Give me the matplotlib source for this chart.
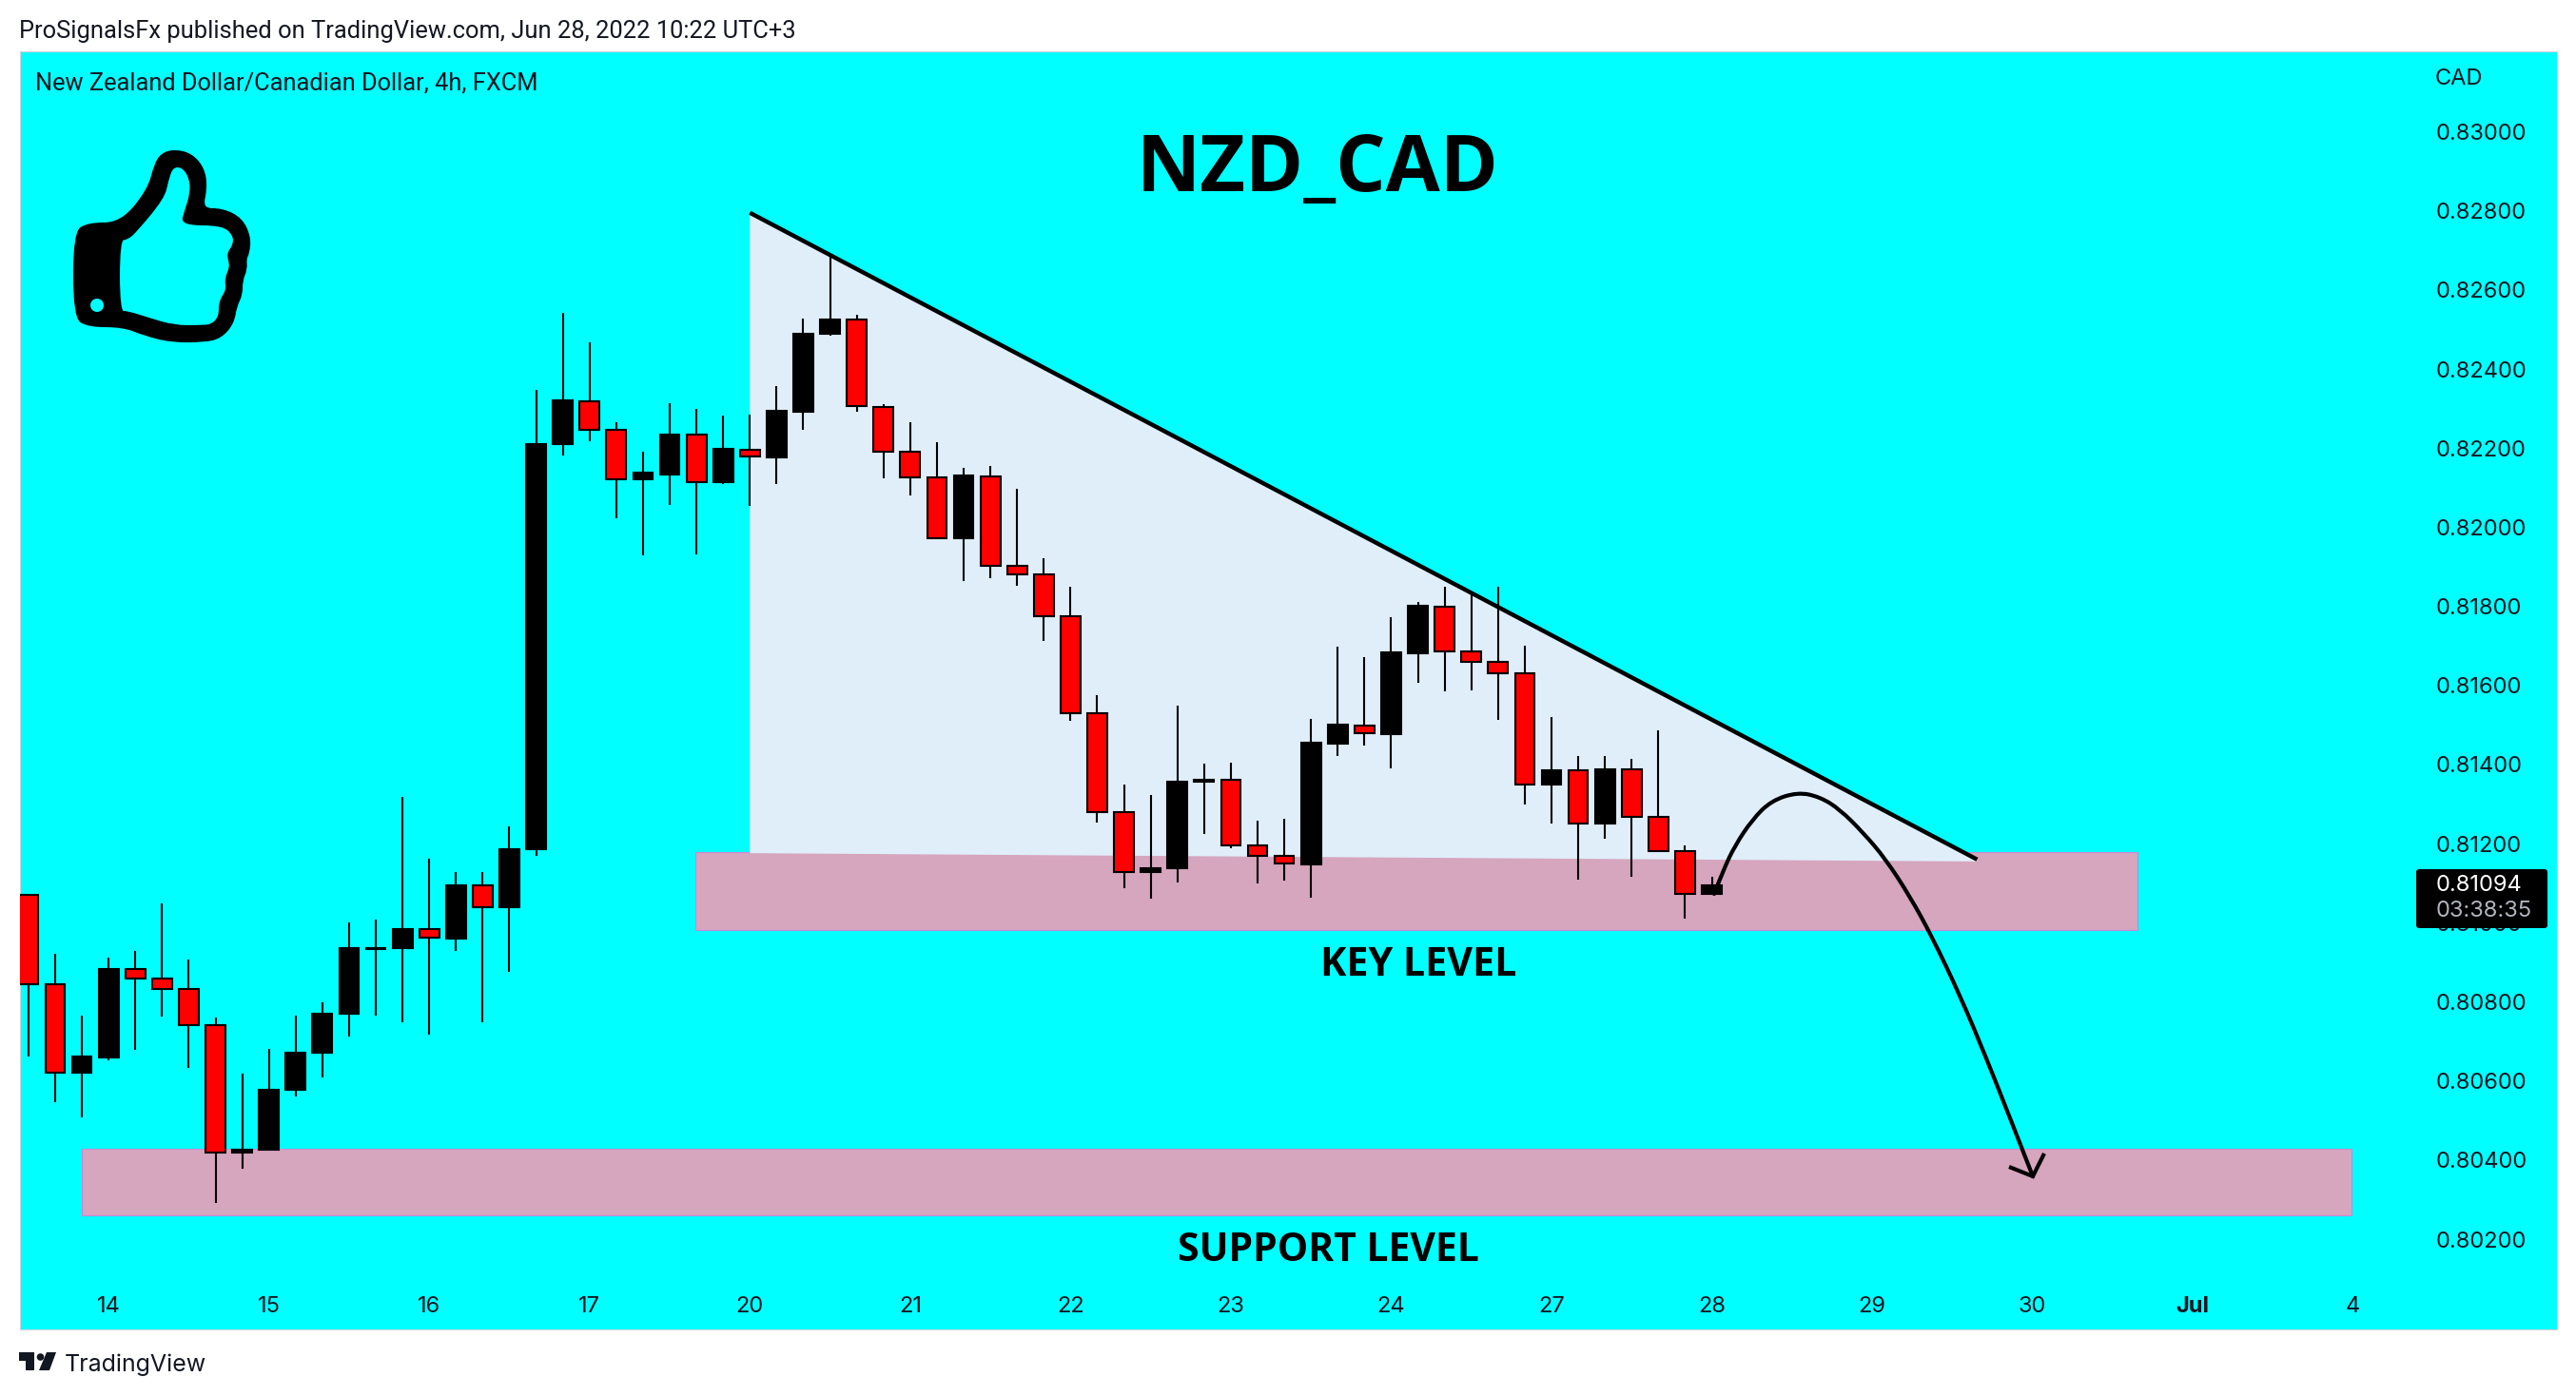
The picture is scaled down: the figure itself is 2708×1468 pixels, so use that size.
import numpy as np
import matplotlib
matplotlib.use('Agg')
import matplotlib.pyplot as plt
from matplotlib.patches import PathPatch, Rectangle, Polygon, FancyBboxPatch, Ellipse, Circle
from matplotlib.path import Path

W, H = 2708, 1468

# candles, one per 4h bar; top/bottom are the body edges
highs = [0.81071, 0.80922, 0.80766, 0.80912, 0.80928, 0.81048, 0.80907, 0.80760, 0.80619, 0.80680,
         0.80766, 0.80800, 0.81001, 0.81008, 0.81318, 0.81162, 0.81129, 0.81129, 0.81244, 0.82348,
         0.82543, 0.82468, 0.82265, 0.82192, 0.82314, 0.82298, 0.82282, 0.82285, 0.82357, 0.82527,
         0.82683, 0.82537, 0.82311, 0.82266, 0.82216, 0.82151, 0.82156, 0.82098, 0.81921, 0.81850,
         0.81576, 0.81350, 0.81323, 0.81550, 0.81403, 0.81405, 0.81257, 0.81263, 0.81515, 0.81698,
         0.81672, 0.81773, 0.81811, 0.81850, 0.81834, 0.81850, 0.81701, 0.81520, 0.81422, 0.81422,
         0.81414, 0.81487, 0.81196, 0.81117]
tops = [0.81071, 0.80844, 0.80662, 0.80884, 0.80884, 0.80858, 0.80832, 0.80741, 0.80427, 0.80579,
        0.80672, 0.80771, 0.80935, 0.80936, 0.80985, 0.80985, 0.81094, 0.81094, 0.81186, 0.82210,
        0.82321, 0.82319, 0.82245, 0.82137, 0.82235, 0.82233, 0.82198, 0.82196, 0.82294, 0.82489,
        0.82524, 0.82524, 0.82304, 0.82192, 0.82127, 0.82130, 0.82129, 0.81902, 0.81880, 0.81774,
        0.81531, 0.81279, 0.81139, 0.81357, 0.81362, 0.81361, 0.81195, 0.81168, 0.81455, 0.81500,
        0.81498, 0.81683, 0.81801, 0.81800, 0.81687, 0.81659, 0.81630, 0.81385, 0.81385, 0.81388,
        0.81387, 0.81267, 0.81182, 0.81095]
bottoms = [0.80844, 0.80620, 0.80620, 0.80660, 0.80858, 0.80832, 0.80741, 0.80420, 0.80418, 0.80427,
           0.80577, 0.80672, 0.80771, 0.80933, 0.80935, 0.80962, 0.80961, 0.81039, 0.81039, 0.81186,
           0.82210, 0.82245, 0.82121, 0.82121, 0.82134, 0.82115, 0.82113, 0.82178, 0.82176, 0.82291,
           0.82488, 0.82306, 0.82192, 0.82127, 0.81972, 0.81972, 0.81902, 0.81880, 0.81774, 0.81531,
           0.81280, 0.81128, 0.81128, 0.81139, 0.81356, 0.81195, 0.81168, 0.81149, 0.81148, 0.81453,
           0.81479, 0.81477, 0.81681, 0.81687, 0.81659, 0.81630, 0.81350, 0.81349, 0.81252, 0.81252,
           0.81267, 0.81182, 0.81074, 0.81074]
lows = [0.80662, 0.80547, 0.80508, 0.80653, 0.80679, 0.80763, 0.80634, 0.80292, 0.80378, 0.80427,
        0.80561, 0.80610, 0.80712, 0.80766, 0.80749, 0.80717, 0.80928, 0.80749, 0.80876, 0.81169,
        0.82181, 0.82218, 0.82023, 0.81930, 0.82057, 0.81931, 0.82109, 0.82054, 0.82109, 0.82247,
        0.82484, 0.82292, 0.82124, 0.82081, 0.81972, 0.81864, 0.81871, 0.81853, 0.81713, 0.81511,
        0.81254, 0.81087, 0.81062, 0.81102, 0.81225, 0.81189, 0.81100, 0.81107, 0.81064, 0.81422,
        0.81448, 0.81390, 0.81607, 0.81585, 0.81588, 0.81513, 0.81300, 0.81252, 0.81109, 0.81212,
        0.81117, 0.81182, 0.81011, 0.81072]
is_down = [1, 1, 0, 0, 1, 1, 1, 1, 0, 0,
           0, 0, 0, 0, 0, 1, 0, 1, 0, 0,
           0, 1, 1, 0, 0, 1, 0, 1, 0, 0,
           0, 1, 1, 1, 1, 0, 1, 1, 1, 1,
           1, 1, 0, 0, 0, 1, 1, 1, 0, 0,
           1, 0, 0, 1, 1, 1, 1, 0, 1, 0,
           1, 1, 1, 0]

day_ticks = [3, 9, 15, 21, 27, 33, 39, 45, 51, 57, 63, 69, 75, 81, 87]
day_labels = ['14', '15', '16', '17', '20', '21', '22', '23', '24', '27', '28', '29', '30', 'Jul', '4']
price_ticks = [0.802, 0.804, 0.806, 0.808, 0.810, 0.812, 0.814, 0.816, 0.818,
               0.820, 0.822, 0.824, 0.826, 0.828, 0.830]

key_zone = (24.97, 78.92, 0.80982, 0.81178)
support_zone = (1.98, 86.95, 0.80261, 0.80428)
trend_x = [27.0, 72.93]
trend_y = [0.82795, 0.81160]
triangle_low = [0.81176, 0.81155]

# curved forecast arrow and thumb icon, traced in image pixels
arrow_pts = [(1802, 940), (1812, 914), (1824, 889), (1842, 862), (1862, 842), (1890, 833),
             (1913, 838), (1934, 851), (1959, 876), (1982, 903), (2008, 943), (2031, 985),
             (2061, 1048), (2087, 1110), (2112, 1173), (2137, 1237)]
arrow_head = [(2112, 1227), (2137, 1237), (2149, 1213)]
thumb_outer = [(92, 343), (78, 333), (78, 245), (92, 235), (127, 235), (156, 200), (163, 173),
               (170, 162), (183, 158), (201, 162), (214, 177), (217, 197), (212, 220), (234, 220),
               (254, 230), (263, 250), (261, 267), (258, 272), (259, 283), (254, 295), (254, 310),
               (248, 322), (245, 340), (232, 355), (214, 359), (179, 359), (152, 352), (129, 343)]
thumb_inner = [(125, 252), (134, 251), (143, 243), (172, 208), (176, 190), (181, 175), (192, 175),
               (200, 187), (201, 203), (195, 222), (191, 236), (234, 236), (246, 247), (246, 258),
               (239, 267), (243, 280), (237, 293), (239, 305), (231, 317), (231, 333), (223, 342),
               (210, 343), (183, 343), (156, 335), (134, 328), (125, 328)]
logo_bar = [(20, 1422), (36, 1422), (36, 1441), (27, 1441), (27, 1431), (20, 1431)]
logo_slash = [(49, 1422), (59, 1422), (52, 1441), (41, 1441)]


def smooth_path(points):
    # open curve through the midpoints, using the traced points as controls
    verts = [points[0]]
    codes = [Path.MOVETO]
    for a, b in zip(points[1:-2], points[2:-1]):
        verts += [a, ((a[0] + b[0]) / 2, (a[1] + b[1]) / 2)]
        codes += [Path.CURVE3, Path.CURVE3]
    verts += [points[-2], points[-1]]
    codes += [Path.CURVE3, Path.CURVE3]
    return Path(verts, codes)


def closed_smooth_path(points):
    # same idea for a loop, starts and ends on the midpoint of the last edge
    mid = lambda a, b: ((a[0] + b[0]) / 2, (a[1] + b[1]) / 2)
    verts = [mid(points[-1], points[0])]
    codes = [Path.MOVETO]
    for i, p in enumerate(points):
        verts += [p, mid(p, points[(i + 1) % len(points)])]
        codes += [Path.CURVE3, Path.CURVE3]
    return Path(verts, codes)


fig = plt.figure(figsize=(W / 100, H / 100), dpi=100, facecolor='white')
left, right, top, bottom = 20.7, 2688, 54, 1398
ax = fig.add_axes([left / W, 1 - bottom / H, (right - left) / W, (bottom - top) / H], facecolor='#00FFFF')
ax.set_xlim(-0.327, 94.63)
ax.set_ylim(0.79972, 0.83203)

ax.add_patch(Rectangle((key_zone[0], key_zone[2]), key_zone[1] - key_zone[0], key_zone[3] - key_zone[2],
                       facecolor='#D6A5BE', edgecolor='#C58AD8', lw=0.8, zorder=1))
ax.add_patch(Rectangle((support_zone[0], support_zone[2]), support_zone[1] - support_zone[0],
                       support_zone[3] - support_zone[2], facecolor='#D6A5BE', edgecolor='#C58AD8', lw=0.8, zorder=1))
ax.add_patch(Polygon([(trend_x[0], trend_y[0]), (trend_x[1], trend_y[1]),
                      (trend_x[1], triangle_low[1]), (trend_x[0], triangle_low[0])],
                     facecolor='#E0EEF9', edgecolor='none', zorder=1.5))

xs = np.arange(len(highs))
ax.vlines(xs, lows, highs, color='black', lw=1.5, zorder=3)
colors = ['#FF0000' if d else 'black' for d in is_down]
ax.bar(xs, np.array(tops) - np.array(bottoms), 0.74, bottom=bottoms, color=colors,
       edgecolor='black', linewidth=1.5, zorder=3.5)
ax.plot(trend_x, trend_y, color='black', lw=3.2, zorder=4, solid_capstyle='butt')

ax.yaxis.tick_right()
ax.set_yticks(price_ticks)
ax.set_yticklabels(['%.5f' % p for p in price_ticks])
ax.set_xticks(day_ticks)
ax.set_xticklabels(day_labels)
ax.tick_params(axis='y', length=0, pad=-92, labelsize=17, labelcolor='#131722')
ax.tick_params(axis='x', length=0, pad=-25.5, labelsize=17, labelcolor='#131722')
for lab in ax.get_xticklabels() + ax.get_yticklabels():
    lab.set_family('Inter')
ax.get_xticklabels()[day_labels.index('Jul')].set_fontweight('bold')
for s in ax.spines.values():
    s.set_color('#D1D4DC')
    s.set_linewidth(0.8)

# overlay in image pixels for the text and drawings
ov = fig.add_axes([0, 0, 1, 1], facecolor='none')
ov.set_xlim(0, W)
ov.set_ylim(H, 0)
ov.axis('off')

ov.text(20, 33, 'ProSignalsFx published on TradingView.com, Jun 28, 2022 10:22 UTC+3', family='Roboto',
        fontsize=18.4, color='#131722', va='center')
ov.text(37, 87, 'New Zealand Dollar/Canadian Dollar, 4h, FXCM', family='Roboto', fontsize=18.3,
        color='#131722', va='center')
ov.text(2560, 83, 'CAD', family='Inter', fontsize=17, color='#131722', va='center')
ov.text(1385, 179, 'NZD_CAD', family='Open Sans', fontweight='bold', fontsize=59.5, ha='center', va='center')
ov.text(1491, 1016, 'KEY LEVEL', family='Open Sans', fontweight='bold', fontsize=29.6, ha='center', va='center')
ov.text(1396, 1316, 'SUPPORT LEVEL', family='Open Sans', fontweight='bold', fontsize=29.4, ha='center', va='center')

ov.add_patch(PathPatch(smooth_path(arrow_pts), facecolor='none', edgecolor='black', lw=3, capstyle='round'))
ov.plot(*zip(*arrow_head), color='black', lw=3, solid_joinstyle='miter', solid_capstyle='butt')

# inner outline runs the other way round so it stays a hole
thumb = Path.make_compound_path(closed_smooth_path(thumb_outer), closed_smooth_path(thumb_inner[::-1]))
ov.add_patch(PathPatch(thumb, facecolor='black', edgecolor='black', lw=1.5, joinstyle='round'))
ov.add_patch(Ellipse((102, 321), 14, 14, facecolor='#00FFFF', edgecolor='none'))

ov.add_patch(FancyBboxPatch((2542, 916), 134, 58, boxstyle='round,pad=2,rounding_size=3',
                            facecolor='black', edgecolor='none', zorder=6))
ov.text(2561, 931, '0.81094', family='Inter', fontsize=17, color='white', va='center', zorder=7)
ov.text(2561, 958, '03:38:35', family='Inter', fontsize=17, color='#B2B5BE', va='center', zorder=7)

ov.add_patch(Polygon(logo_bar, facecolor='#131722', edgecolor='none'))
ov.add_patch(Polygon(logo_slash, facecolor='#131722', edgecolor='none'))
ov.add_patch(Circle((42.5, 1427), 3.8, facecolor='#131722', edgecolor='none'))
ov.text(68, 1435, 'TradingView', family='Inter', fontsize=18, color='#131722', va='center')

fig.savefig('out.png', dpi=100, facecolor='white')
